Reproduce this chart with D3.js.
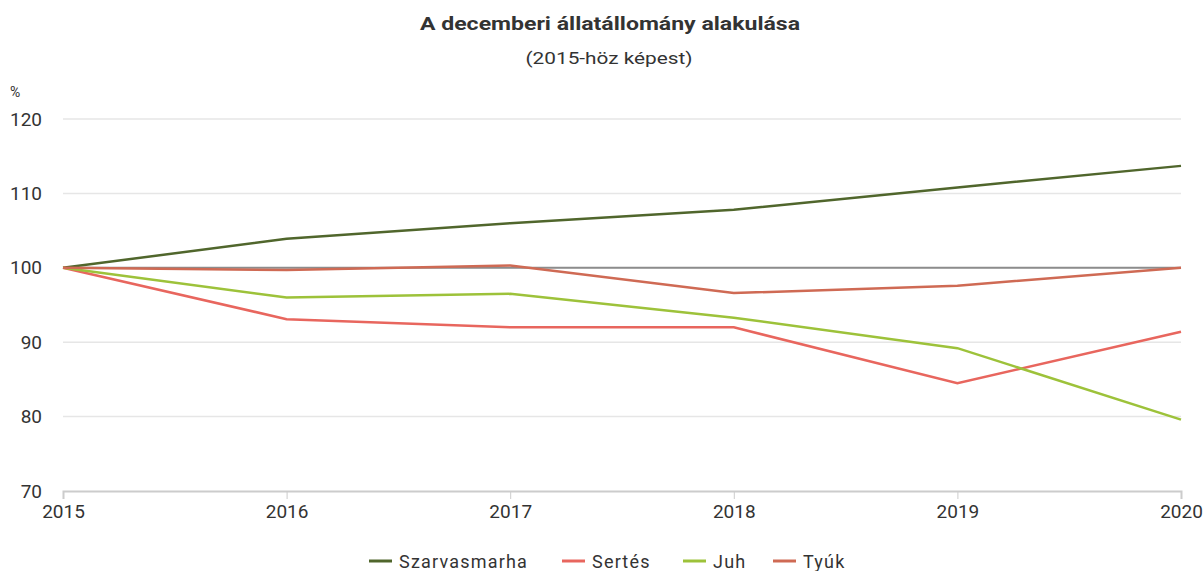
<!DOCTYPE html>
<html>
<head>
<meta charset="utf-8">
<script src="https://cdn.jsdelivr.net/npm/d3@7"></script>
<style>
  body { margin: 0; background: #fff; font-family: Roboto, "Noto Sans", sans-serif; }
  svg text { fill: #333; }
</style>
</head>
<body>
<div id="chart"></div>
<script>
var years = [2015, 2016, 2017, 2018, 2019, 2020];
var seriesNames = ['Szarvasmarha', 'Sertés', 'Juh', 'Tyúk'];
var szarvasmarha = [100, 103.9, 106.0, 107.8, 110.8, 113.7];
var sertes = [100, 93.1, 92.0, 92.0, 84.5, 91.4];
var juh = [100, 96.0, 96.5, 93.3, 89.2, 79.6];
var tyuk = [100, 99.7, 100.3, 96.6, 97.6, 100];
var yTicks = [70, 80, 90, 100, 110, 120];

var colors = ['#50662c', '#e8665e', '#9dc23a', '#cf6a54'];
var series = [szarvasmarha, sertes, juh, tyuk];

var width = 1204, height = 571;
var margin = {top: 119, right: 23, bottom: 80, left: 63};

var svg = d3.select('#chart').append('svg')
  .attr('width', width)
  .attr('height', height);

var x = d3.scaleLinear()
  .domain([2015, 2020])
  .range([margin.left, width - margin.right]);

var y = d3.scaleLinear()
  .domain([70, 120])
  .range([height - margin.bottom, margin.top]);

// title
svg.append('text')
  .attr('x', 610).attr('y', 30)
  .attr('text-anchor', 'middle')
  .attr('textLength', 380).attr('lengthAdjust', 'spacingAndGlyphs')
  .style('font-size', '19px').style('font-weight', 'bold')
  .text('A decemberi állatállomány alakulása');
svg.append('text')
  .attr('x', 609).attr('y', 64)
  .attr('text-anchor', 'middle')
  .attr('textLength', 167).attr('lengthAdjust', 'spacingAndGlyphs')
  .style('font-size', '17px')
  .text('(2015-höz képest)');

// grid
svg.append('g').selectAll('line')
  .data(yTicks.filter(function(d){ return d != 70; }))
  .enter().append('line')
  .attr('x1', margin.left).attr('x2', width - margin.right)
  .attr('y1', function(d){ return y(d); })
  .attr('y2', function(d){ return y(d); })
  .attr('stroke', '#e6e6e6')
  .attr('stroke-width', 1.5);

// y labels
var yAxis = d3.axisLeft(y).tickValues(yTicks).tickSize(0).tickPadding(21);
var gy = svg.append('g')
  .attr('transform', 'translate(' + margin.left + ',0)')
  .call(yAxis);
gy.select('.domain').remove();
gy.selectAll('text').style('font-size', '19px').style('font-family', 'Roboto, sans-serif').attr('fill', '#333');

svg.append('text')
  .attr('x', 10).attr('y', 97)
  .style('font-size', '14px')
  .text('%');

// x axis
var xAxis = d3.axisBottom(x).tickValues(years).tickFormat(d3.format('d')).tickSize(8).tickPadding(6);
var gx = svg.append('g')
  .attr('transform', 'translate(0,' + y(70) + ')')
  .call(xAxis);
gx.select('.domain').attr('stroke', '#ccc').attr('stroke-width', 2);
gx.selectAll('.tick line').attr('stroke', '#ccc');
gx.selectAll('text').style('font-size', '19px').style('font-family', 'Roboto, sans-serif').attr('fill', '#333');

// reference line at 100
svg.append('line')
  .attr('x1', margin.left).attr('x2', width - margin.right)
  .attr('y1', y(100)).attr('y2', y(100))
  .attr('stroke', '#8c8c8c')
  .attr('stroke-width', 2);

var line = d3.line()
  .x(function(d, i){ return x(years[i]); })
  .y(function(d){ return y(d); });

svg.append('g').selectAll('path')
  .data(series)
  .enter().append('path')
  .attr('d', line)
  .attr('fill', 'none')
  .attr('stroke', function(d, i){ return colors[i]; })
  .attr('stroke-width', 2.5);

// legend
var legendX = [369, 562, 683, 773];
var legend = svg.append('g').selectAll('g')
  .data(seriesNames)
  .enter().append('g')
  .attr('transform', function(d, i){ return 'translate(' + legendX[i] + ',561)'; });
legend.append('line')
  .attr('x1', 0).attr('x2', 23)
  .attr('stroke', function(d, i){ return colors[i]; })
  .attr('stroke-width', 3);
legend.append('text')
  .attr('x', 30).attr('y', 6.5)
  .style('font-size', '18px')
  .style('letter-spacing', '1.2px')
  .text(function(d){ return d; });
</script>
</body>
</html>
